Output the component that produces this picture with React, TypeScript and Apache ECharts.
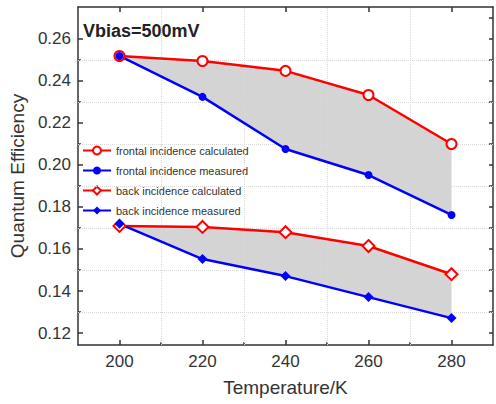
import React, { useEffect, useRef } from "react";
import * as echarts from "echarts";

const temperatures = [200, 220, 240, 260, 280];
const frontalCalculated = [0.2519, 0.2495, 0.2448, 0.2333, 0.21];
const frontalMeasured = [0.2519, 0.2324, 0.2076, 0.1952, 0.1762];
const backCalculated = [0.171, 0.1705, 0.168, 0.1614, 0.148];
const backMeasured = [0.172, 0.1552, 0.1471, 0.1371, 0.1271];

const xMajorTicks = [200, 220, 240, 260, 280];
const xMinorTicks = [210, 230, 250, 270];
const yMajorTicks = [0.12, 0.14, 0.16, 0.18, 0.2, 0.22, 0.24, 0.26];
const yMinorTicks = [0.13, 0.15, 0.17, 0.19, 0.21, 0.23, 0.25];
const yAllTicks = [0.12, 0.13, 0.14, 0.15, 0.16, 0.17, 0.18, 0.19, 0.2, 0.21, 0.22, 0.23, 0.24, 0.25, 0.26, 0.27];

const FONT = "'Liberation Sans', Arial, Helvetica, sans-serif";
const AXIS_COLOR = "#333";

const pairs = (xs: number[], ys: number[]) => xs.map((x, i) => [x, ys[i]]);
const bands = [
  { upper: frontalCalculated, lower: frontalMeasured },
  { upper: backCalculated, lower: backMeasured },
];

export default function App() {
  const ref = useRef<HTMLDivElement>(null);
  useEffect(() => {
    if (!ref.current) return;
    const chart = echarts.init(ref.current, null, { renderer: "svg" });
    const X_MIN = 190, X_MAX = 290, Y_MIN = 0.1143, Y_MAX = 0.2752;
    const baseX = { type: "value", min: X_MIN, max: X_MAX, gridIndex: 0, splitLine: { show: false } };
    const baseY = { type: "value", min: Y_MIN, max: Y_MAX, gridIndex: 0, splitLine: { show: false } };
    const lineCommon = { type: "line", xAxisIndex: 0, yAxisIndex: 0, z: 5 };
    const tickLine = { color: AXIS_COLOR, width: 1.5 };
    chart.setOption({
      animation: false,
      backgroundColor: "#fff",
      textStyle: { fontFamily: FONT },
      title: {
        text: "Vbias=500mV",
        left: 83,
        top: 22,
        padding: 0,
        textStyle: { fontSize: 18, fontWeight: "bold", color: "#222", fontFamily: FONT },
      },
      legend: {
        orient: "vertical",
        left: 82,
        top: 145,
        padding: 0,
        itemWidth: 28,
        itemHeight: 10,
        itemGap: 9,
        textStyle: { fontSize: 11, color: "#333", fontFamily: FONT },
        data: [
          "frontal incidence calculated",
          "frontal incidence measured",
          "back incidence calculated",
          "back incidence measured",
        ],
      },
      grid: { left: 77, right: 3, top: 7, bottom: 59, containLabel: false },
      xAxis: [
        {
          ...baseX,
          position: "bottom",
          axisLine: { show: true, onZero: false, lineStyle: tickLine },
          axisTick: { show: true, inside: true, length: 5, customValues: xMajorTicks, lineStyle: tickLine },
          axisLabel: { customValues: xMajorTicks, fontSize: 17, color: "#333", margin: 8, fontFamily: FONT },
          name: "Temperature/K",
          nameLocation: "middle",
          nameGap: 33,
          nameTextStyle: { fontSize: 19, color: "#333", fontFamily: FONT },
        },
        {
          ...baseX,
          position: "bottom",
          axisLine: { show: false, onZero: false },
          axisTick: { show: true, inside: true, length: 3, customValues: xMinorTicks, lineStyle: tickLine },
          axisLabel: { show: false },
        },
        {
          ...baseX,
          position: "top",
          axisLine: { show: true, onZero: false, lineStyle: tickLine },
          axisTick: { show: true, inside: true, length: 5, customValues: xMajorTicks, lineStyle: tickLine },
          axisLabel: { show: false },
        },
      ],
      yAxis: [
        {
          ...baseY,
          position: "left",
          axisLine: { show: true, onZero: false, lineStyle: tickLine },
          axisTick: { show: true, inside: true, length: 5, customValues: yMajorTicks, lineStyle: tickLine },
          axisLabel: {
            customValues: yMajorTicks,
            fontSize: 17,
            color: "#333",
            margin: 7,
            fontFamily: FONT,
            formatter: (v: number) => v.toFixed(2),
          },
          name: "Quantum Efficiency",
          nameLocation: "middle",
          nameGap: 48,
          nameTextStyle: { fontSize: 19, color: "#333", fontFamily: FONT },
        },
        {
          ...baseY,
          position: "left",
          axisLine: { show: false, onZero: false },
          axisTick: { show: true, inside: true, length: 3, customValues: yMinorTicks, lineStyle: tickLine },
          axisLabel: { show: false },
        },
        {
          ...baseY,
          position: "right",
          axisLine: { show: true, onZero: false, lineStyle: tickLine },
          axisTick: { show: true, inside: true, length: 4, customValues: yAllTicks, lineStyle: tickLine },
          axisLabel: { show: false },
        },
      ],
      series: [
        {
          type: "custom",
          name: "band",
          xAxisIndex: 0,
          yAxisIndex: 0,
          silent: true,
          clip: false,
          z: 1,
          data: [
            [temperatures[0], frontalMeasured[0], 0],
            [temperatures[0], backMeasured[0], 1],
          ],
          renderItem: (_params: any, api: any) => {
            const b = bands[api.value(2)];
            const pts: number[][] = [];
            temperatures.forEach((t, i) => pts.push(api.coord([t, b.upper[i]])));
            for (let i = temperatures.length - 1; i >= 0; i--) pts.push(api.coord([temperatures[i], b.lower[i]]));
            return {
              type: "polygon",
              shape: { points: pts },
              style: { fill: "#d4d4d4", stroke: "none" },
            };
          },
          markLine: {
            silent: true,
            symbol: ["none", "none"],
            label: { show: false },
            lineStyle: { color: "#d8d8d8", type: "dotted", width: 1 },
            data: [
              ...xMinorTicks.map((v) => ({ xAxis: v })),
              ...yMinorTicks.map((v) => ({ yAxis: v })),
            ],
          },
        },
        {
          ...lineCommon,
          name: "frontal incidence calculated",
          data: pairs(temperatures, frontalCalculated),
          symbol: "circle",
          symbolSize: 10,
          lineStyle: { color: "#ff0000", width: 2.5 },
          itemStyle: { color: "#ffffff", borderColor: "#ff0000", borderWidth: 2 },
        },
        {
          ...lineCommon,
          name: "frontal incidence measured",
          data: pairs(temperatures, frontalMeasured),
          symbol: "circle",
          symbolSize: 8,
          lineStyle: { color: "#0000ff", width: 2.5 },
          itemStyle: { color: "#0000ff", borderColor: "#0000ff", borderWidth: 0 },
        },
        {
          ...lineCommon,
          name: "back incidence calculated",
          data: pairs(temperatures, backCalculated),
          symbol: "diamond",
          symbolSize: 12,
          lineStyle: { color: "#ff0000", width: 2.5 },
          itemStyle: { color: "#ffffff", borderColor: "#ff0000", borderWidth: 2 },
        },
        {
          ...lineCommon,
          name: "back incidence measured",
          data: pairs(temperatures, backMeasured),
          symbol: "diamond",
          symbolSize: 10,
          lineStyle: { color: "#0000ff", width: 2.5 },
          itemStyle: { color: "#0000ff", borderColor: "#0000ff", borderWidth: 0 },
        },
      ],
    });
    return () => chart.dispose();
  }, []);
  return <div ref={ref} style={{ width: 496, height: 404, position: "absolute", left: 0, top: 0 }} />;
}
